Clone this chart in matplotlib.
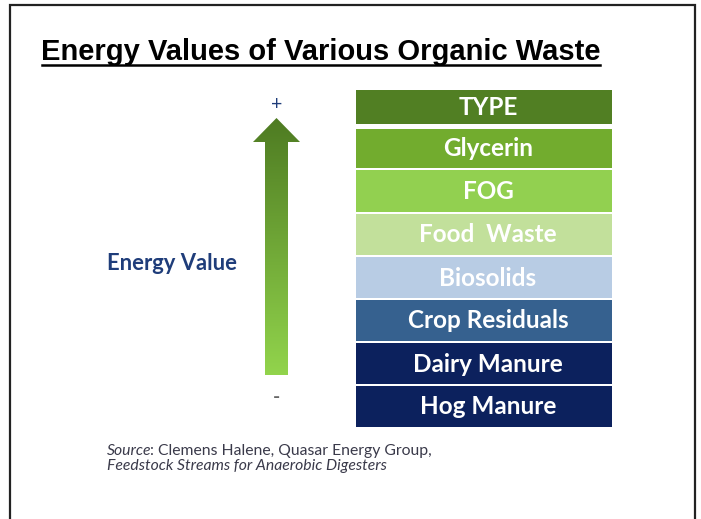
import matplotlib
matplotlib.use("Agg")
import matplotlib.pyplot as plt
import numpy as np
from matplotlib.path import Path
from matplotlib.patches import PathPatch

# ---- data ----
title = "Energy Values of Various Organic Waste"
header = "TYPE"
categories = ["Glycerin", "FOG", "Food  Waste", "Biosolids",
              "Crop Residuals", "Dairy Manure", "Hog Manure"]
row_colors = ["#72ac2e", "#92d050", "#c2e09b", "#b8cce4",
              "#36618f", "#0c215d", "#0c215d"]
header_color = "#517f23"
axis_label = "Energy Value"
source_line1 = ("Source", ": Clemens Halene, Quasar Energy Group,")
source_line2 = "Feedstock Streams for Anaerobic Digesters"

W, H = 701, 519
fig = plt.figure(figsize=(W / 100, H / 100), dpi=100)
ax = fig.add_axes([0, 0, 1, 1])
ax.set_xlim(0, W)
ax.set_ylim(H, 0)
ax.axis("off")

# frame (open at bottom)
ax.plot([9.5, 9.5, 695, 695], [H + 5, 5, 5, H + 5], color="#222222", lw=1.6,
        solid_joinstyle="miter")

# title with underline
t = ax.text(41, 60, title, fontsize=21, fontweight="bold",
            family="Liberation Sans", color="black", va="baseline", ha="left")
fig.canvas.draw()
bb = t.get_window_extent().transformed(ax.transData.inverted())
ax.plot([bb.x0 + 1, bb.x1 - 1], [65, 65], color="black", lw=1.8)

# table rows
x0, x1 = 356, 612
tx = 488
row_spans = [(129, 168), (170, 212), (214, 255), (257, 298),
             (300, 341), (343, 384), (386, 427)]
fs = 17.5
ax.barh([107], [x1 - x0], left=x0, height=34, color=header_color, edgecolor="none")
ax.text(tx, 107.5, header, color="white", fontsize=fs, fontweight="bold",
        family="Lato", ha="center", va="center")
for (top, bot), name, col in zip(row_spans, categories, row_colors):
    yc = (top + bot) / 2
    ax.barh([yc], [x1 - x0], left=x0, height=bot - top, color=col, edgecolor="none")
    ax.text(tx, yc + 0.5, name, color="white", fontsize=fs,
            fontweight="bold", family="Lato", ha="center", va="center")

# gradient arrow
sx0, sx1 = 265, 288
hx0, hx1 = 253, 300
tip_y, head_y, bot_y = 118, 142, 375
verts = [((sx0 + sx1) / 2, tip_y), (hx1, head_y), (sx1, head_y), (sx1, bot_y),
         (sx0, bot_y), (sx0, head_y), (hx0, head_y), ((sx0 + sx1) / 2, tip_y)]
codes = [Path.MOVETO] + [Path.LINETO] * 6 + [Path.CLOSEPOLY]
patch = PathPatch(Path(verts, codes), facecolor="none", edgecolor="none")
ax.add_patch(patch)
top_c = np.array([0x4e, 0x7b, 0x22]) / 255
bot_c = np.array([0x92, 0xd4, 0x4c]) / 255
g = np.linspace(0, 1, 256)[:, None]
img = (top_c[None, :] * (1 - g) + bot_c[None, :] * g)[:, None, :]
im = ax.imshow(img, extent=[hx0, hx1, bot_y, tip_y], aspect="auto",
               interpolation="bilinear", zorder=2)
im.set_clip_path(patch)
ax.set_xlim(0, W)
ax.set_ylim(H, 0)

ax.text(277, 105, "+", color="#1f3d7a", fontsize=14, family="Lato",
        ha="center", va="center")
ax.text(276, 397, "-", color="#666666", fontsize=14, fontweight="bold",
        family="Lato", ha="center", va="center")

ax.text(107, 264, axis_label, color="#1f3d7a", fontsize=15.8, fontweight="bold",
        family="Lato", ha="left", va="center")

# source text
sfs = 11.3
s1 = ax.text(107, 455, source_line1[0], color="#3a3a4a", fontsize=sfs,
             style="italic", family="Lato", ha="left", va="baseline")
fig.canvas.draw()
b1 = s1.get_window_extent().transformed(ax.transData.inverted())
ax.text(b1.x1 - 2, 455, source_line1[1], color="#3a3a4a", fontsize=sfs,
        family="Lato", ha="left", va="baseline")
ax.text(107, 470, source_line2, color="#3a3a4a", fontsize=sfs,
        style="italic", family="Lato", ha="left", va="baseline")

fig.savefig("out.png", dpi=100, facecolor="white")
